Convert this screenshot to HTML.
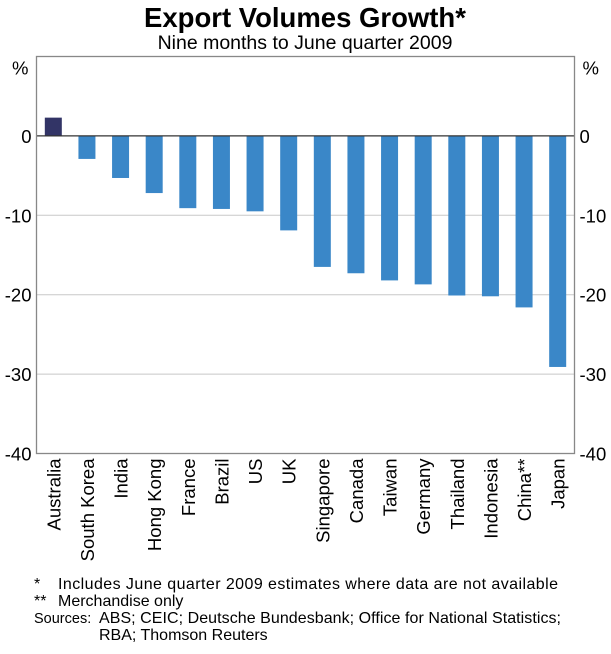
<!DOCTYPE html>
<html><head><meta charset="utf-8"><style>
body{margin:0;background:#fff;font-family:"Liberation Sans",sans-serif;}
</style></head><body>
<svg width="611" height="649" xmlns="http://www.w3.org/2000/svg" font-family="Liberation Sans, sans-serif">
<text x="305" y="27" text-anchor="middle" font-size="27.5" font-weight="bold">Export Volumes Growth*</text>
<text x="305" y="49" text-anchor="middle" font-size="19.5">Nine months to June quarter 2009</text>
<g id="grid"></g>
<g id="bars"></g>
<rect x="36.5" y="56.5" width="538" height="397" fill="none" stroke="#888" stroke-width="1.3"/>
<g id="labels" font-size="18.5"></g>
<g font-size="16">
<text x="34" y="589">*</text><text x="58" y="589" textLength="500">Includes June quarter 2009 estimates where data are not available</text>
<text x="34" y="606">**</text><text x="58" y="606">Merchandise only</text>
<text x="34" y="623" font-size="14.5">Sources:</text><text x="99" y="623" textLength="462">ABS; CEIC; Deutsche Bundesbank; Office for National Statistics;</text>
<text x="99" y="640">RBA; Thomson Reuters</text>
</g>
</svg>
<script>
const categories=["Australia","South Korea","India","Hong Kong","France","Brazil","US","UK","Singapore","Canada","Taiwan","Germany","Thailand","Indonesia","China**","Japan"];
const values=[2.3,-2.9,-5.3,-7.2,-9.1,-9.2,-9.5,-11.9,-16.5,-17.3,-18.2,-18.7,-20.1,-20.2,-21.6,-29.1];
const ticks=[0,-10,-20,-30,-40];
const ns="http://www.w3.org/2000/svg";
const L=36.5,R=574.5,T=56.5,B=453.5,yMax=10,yMin=-40;
const y=v=>T+(yMax-v)/(yMax-yMin)*(B-T);
const band=(R-L)/categories.length;
const x=i=>L+band*(i+0.5);
function mk(t,a,p){const e=document.createElementNS(ns,t);for(const k in a)e.setAttribute(k,a[k]);p.appendChild(e);return e;}
const grid=document.getElementById('grid'),bars=document.getElementById('bars'),labels=document.getElementById('labels');
ticks.forEach(t=>{
 if(t!==0&&t!==yMin){const g=mk('line',{x1:L,x2:R,y1:y(t),y2:y(t),stroke:'#c8c8c8','stroke-width':1},grid);
 
 }
 const a=mk('text',{x:L-5,y:y(t)+7,'text-anchor':'end'},labels);a.textContent=t;
 
 
 const b=mk('text',{x:R+5,y:y(t)+7},labels);b.textContent=t;
 
 
});
[['%',L-8,'end'],['%',R+8,'start']].forEach(p=>{const e=mk('text',{x:p[1],y:T+18,'text-anchor':p[2]},labels);e.textContent=p[0];
 
 });
values.forEach((v,i)=>{
 const r=mk('rect',{x:x(i)-8.5,width:17,y:Math.min(y(v),y(0)),height:Math.abs(y(v)-y(0)),fill:i===0?'#323466':'#3a87c8'},bars);
 
 
 const t=mk('text',{transform:`translate(${x(i)+7},${B+5}) rotate(-90)`,'text-anchor':'end'},labels);t.textContent=categories[i];
 
 
});
const z=mk('line',{x1:L,x2:R,y1:y(0),y2:y(0),stroke:'#333','stroke-width':1.2},bars);


</script>
</body></html>
